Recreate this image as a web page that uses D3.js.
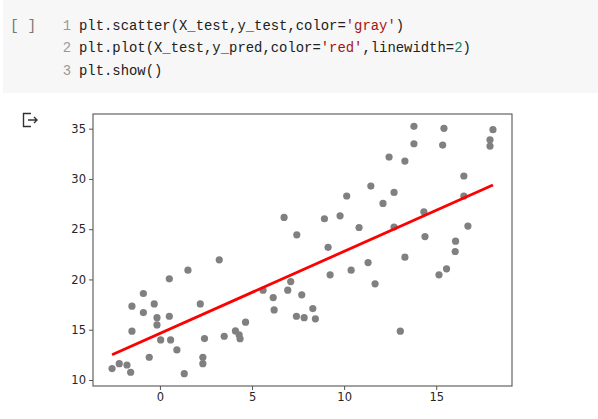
<!DOCTYPE html>
<html><head><meta charset="utf-8">
<script src="https://cdn.jsdelivr.net/npm/d3@7"></script>
<style>html,body{margin:0;padding:0;background:#fff;}svg{display:block;}</style>
</head><body><svg id="c" width="598" height="419"></svg>
<script>
// ---- data ----
const xTest = [6.74,7.43,8.93,9.78,10.14,11.45,10.81,9.13,13.79,15.42,18.08,17.92,17.92,13.79,15.35,12.44,13.3,16.5,12.71,12.11,16.5,14.33,12.71,16.72,14.39,16.05,16.03,13.3,11.3,15.56,15.15,11.68,13.05,10.38,9.24,7.1,6.94,5.6,6.15,7.7,6.2,8.3,7.41,7.83,8.44,4.65,4.1,4.3,4.35,3.22,1.52,0.51,-0.9,-1.52,-0.31,-0.9,-0.16,-0.16,0.51,2.19,-1.52,0.04,0.58,0.92,2.42,3.49,-0.58,2.33,2.33,1.32,-2.6,-2.21,-1.79,-1.59];
const yTest = [26.17,24.44,26.04,26.33,28.3,29.29,25.17,23.2,35.23,35.03,34.9,33.9,33.27,33.5,33.37,32.18,31.78,30.29,28.66,27.56,28.3,26.73,25.21,25.31,24.27,23.81,22.78,22.22,21.68,21.06,20.46,19.56,14.85,20.92,20.46,19.79,18.93,18.93,18.2,18.47,16.97,17.1,16.34,16.2,16.08,15.75,14.88,14.5,14.1,21.95,20.92,20.06,18.6,17.34,17.57,16.7,16.2,15.48,16.34,17.57,14.85,13.98,13.98,12.99,14.12,14.35,12.26,12.26,11.62,10.63,11.13,11.62,11.49,10.77];
const xLine = [-2.6, 18.08];
const yPred = [12.5, 29.4];
const xTicks = [0, 5, 10, 15];
const yTicks = [10, 15, 20, 25, 30, 35];
const codeLines = [
  [["1","num"],["plt.scatter(X_test,y_test,color=","c"],["'gray'","s"],[")","c"]],
  [["2","num"],["plt.plot(X_test,y_pred,color=","c"],["'red'","s"],[",linewidth=","c"],["2","n"],[")","c"]],
  [["3","num"],["plt.show()","c"]]
];

const svg = d3.select("#c");
// code cell
svg.append("rect").attr("x",3).attr("y",0).attr("width",595).attr("height",93).attr("fill","#f7f7f7");
svg.append("text").attr("x",10).attr("y",30).attr("font-family","Liberation Mono, monospace")
  .attr("font-size",14.5).attr("fill","#777").text("[ ]");
const colors = {c:"#212121", s:"#a31515", n:"#098658", num:"#999"};
codeLines.forEach((line,i)=>{
  const y = 29.5 + i*22.75;
  svg.append("text").attr("x",71).attr("y",y).attr("text-anchor","end")
    .attr("font-family","Liberation Mono, monospace").attr("font-size",13.9)
    .attr("fill",colors.num).text(line[0][0]);
  const t = svg.append("text").attr("x",79).attr("y",y)
    .attr("font-family","Liberation Mono, monospace").attr("font-size",13.9);
  line.slice(1).forEach(([s,k])=>t.append("tspan").attr("fill",colors[k]).text(s));
});
// output icon
const ic = svg.append("g").attr("fill","none").attr("stroke","#333").attr("stroke-width",1.4);
ic.append("path").attr("d","M31,113.5 H23.5 V126.5 H31");
ic.append("path").attr("d","M28,120 H37 M34,117 L37,120 L34,123");

// chart
const L=93, R=512, T=114, B=386;
const x = d3.scaleLinear().domain([-3.634, 19.114]).range([L,R]);
const y = d3.scaleLinear().domain([9.4, 36.46]).range([B,T]);
const g = svg.append("g");
g.selectAll("circle.pt").data(xTest.map((v,i)=>[v,yTest[i]])).enter().append("circle")
  .attr("cx",d=>x(d[0])).attr("cy",d=>y(d[1])).attr("r",3.6).attr("fill","#808080");
g.append("path").datum(xLine.map((v,i)=>[v,yPred[i]]))
  .attr("d",d3.line().x(d=>x(d[0])).y(d=>y(d[1])))
  .attr("stroke","#ff0000").attr("stroke-width",2.8).attr("fill","none");
g.append("rect").attr("x",L).attr("y",T).attr("width",R-L).attr("height",B-T)
  .attr("fill","none").attr("stroke","#555").attr("stroke-width",1.1);
const xa = svg.append("g").attr("transform",`translate(0,${B})`)
  .call(d3.axisBottom(x).tickValues(xTicks).tickSize(4).tickPadding(3).tickFormat(d3.format("d")));
const ya = svg.append("g").attr("transform",`translate(${L},0)`)
  .call(d3.axisLeft(y).tickValues(yTicks).tickSize(4).tickPadding(3).tickFormat(d3.format("d")));
[xa,ya].forEach(a=>{
  a.select(".domain").remove();
  a.selectAll("line").attr("stroke","#555");
  a.selectAll("text").attr("font-family","DejaVu Sans, sans-serif").attr("font-size",11.5).attr("fill","#262626");
});
</script></body></html>
